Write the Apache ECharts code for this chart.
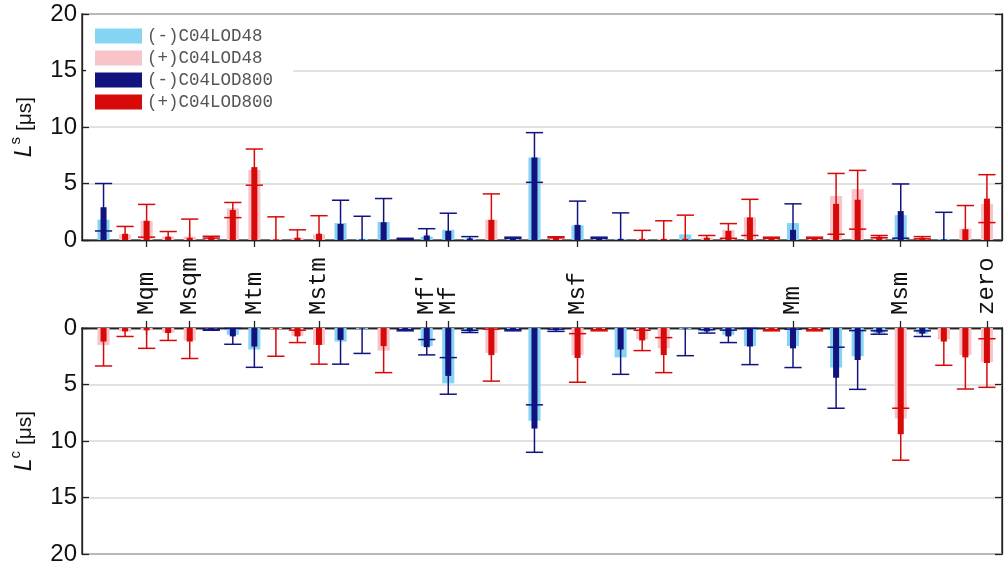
<!DOCTYPE html>
<html>
<head>
<meta charset="utf-8">
<script src="https://cdn.jsdelivr.net/npm/echarts@6/dist/echarts.min.js"></script>
<style>
  html, body { margin: 0; padding: 0; background: #fff; }
  #chart { width: 1006px; height: 568px; }
</style>
</head>
<body>
<div id="chart"></div>
<script>
// tide labels and the bar slot they sit on
const tickPositions = [2, 4, 7, 10, 15, 16, 22, 32, 37, 41]
const tickNames = ['Mqm', 'Msqm', 'Mtm', 'Mstm', "Mf'", 'Mf', 'Msf', 'Mm', 'Msm', 'zero']

// signed amplitudes: + is red, - is blue  (upper panel L^s)
const sinLod800 = [-2.9, 0.55, 1.7, 0.3, 0.2, 0.25, 2.65, 6.45, 0.05, 0.2, 0.55, -1.42, -0.05, -1.57,
  -0.1, -0.4, -0.8, -0.15, 1.78, -0.2, -7.3, 0.24, -1.34, -0.2, -0.1, 0.1, 0.1, 0.1,
  0.2, 0.8, 2.0, 0.2, -0.9, 0.2, 3.2, 3.56, 0.3, -2.56, 0.2, -0.05, 0.95, 3.66]
const sinLod800Err = [2.1, 0.65, 1.45, 0.45, 1.65, 0.08, 0.67, 1.6, 2.0, 0.7, 1.6, 2.1, 2.05, 2.1,
  0.05, 0.6, 1.57, 0.15, 2.3, 0.05, 2.2, 0.05, 2.1, 0.05, 2.3, 0.75, 1.6, 2.1,
  0.2, 0.65, 1.6, 0.05, 2.3, 0.05, 2.69, 2.6, 0.1, 2.4, 0.1, 2.4, 2.1, 2.12]
const sinLod48 = [-1.8, 0.5, 1.7, 0.3, 0.3, 0.25, 2.8, 6.2, 0.1, 0.2, 0.5, -1.5, -0.1, -1.6,
  -0.1, -0.3, -0.9, -0.1, 1.8, -0.2, -7.3, 0.2, -1.3, -0.2, -0.1, 0.1, 0.1, -0.5,
  0.2, 0.9, 2.0, 0.2, -1.5, 0.2, 3.9, 4.5, 0.3, -2.2, 0.2, -0.1, 1.0, 3.2]

// lower panel L^c
const cosLod800 = [1.2, 0.3, 0.2, 0.45, 1.2, -0.15, -0.74, -1.64, 0.1, 0.74, 1.5, -1.05, -0.05, 1.6,
  -0.2, -1.7, -4.24, -0.3, 2.4, -0.2, -8.9, -0.2, 2.65, 0.2, -1.9, 1.1, 2.4, -0.05,
  -0.3, -0.74, -1.64, 0.2, -1.8, 0.2, -4.4, -2.83, -0.4, 9.4, -0.5, 1.2, 2.6, 3.1]
const cosLod800Err = [2.16, 0.45, 1.6, 0.65, 1.5, 0.05, 0.7, 1.84, 2.4, 0.55, 1.7, 2.15, 2.2, 2.35,
  0.05, 0.68, 1.62, 0.1, 2.3, 0.05, 2.1, 0.1, 2.15, 0.05, 2.2, 0.9, 1.55, 2.4,
  0.15, 0.55, 1.6, 0.05, 1.7, 0.05, 2.7, 2.6, 0.15, 2.3, 0.25, 2.1, 2.8, 2.15]
const cosLod48 = [1.5, 0.3, 0.2, 0.4, 1.1, -0.15, -0.6, -1.9, 0.1, 0.7, 1.5, -1.2, -0.1, 2.0,
  -0.2, -1.6, -4.9, -0.3, 2.2, -0.2, -8.2, -0.2, 2.4, 0.2, -2.6, 1.0, 1.8, -0.1,
  -0.3, -0.6, -1.6, 0.2, -1.6, 0.2, -3.5, -2.5, -0.5, 8.0, -0.5, 1.0, 2.4, 3.0]

const colors = {
  '(-)C04LOD48': '#86d4f4',
  '(+)C04LOD48': '#f8c3c9',
  '(-)C04LOD800': '#13137f',
  '(+)C04LOD800': '#d70a0a'
}

function pick (vals, errs, sign) {
  const out = []
  vals.forEach((v, i) => {
    if (sign > 0 ? v >= 0 : v < 0) out.push([i, Math.abs(v), errs ? errs[i] : 0])
  })
  return out
}

function lightBar (params, api) {
  const x = api.value(0)
  const a = api.coord([x, 0])
  const b = api.coord([x, api.value(1)])
  const w = api.size([1, 0])[0] * 0.56
  return {
    type: 'rect',
    shape: { x: a[0] - w / 2, y: Math.min(a[1], b[1]), width: w, height: Math.abs(a[1] - b[1]) },
    style: { fill: api.visual('color') }
  }
}

function darkBar (params, api) {
  const x = api.value(0)
  const v = api.value(1)
  const e = api.value(2)
  const color = api.visual('color')
  const base = api.coord([x, 0])
  const top = api.coord([x, v])
  const hi = api.coord([x, v + e])
  const lo = api.coord([x, Math.max(0, v - e)])
  const unit = api.size([1, 0])[0]
  const w = unit * 0.28
  const cap = unit * 0.4
  const line = { stroke: color, lineWidth: 1.5 }
  const children = [
    { type: 'rect', shape: { x: base[0] - w / 2, y: Math.min(base[1], top[1]), width: w, height: Math.abs(base[1] - top[1]) }, style: { fill: color } },
    { type: 'line', shape: { x1: hi[0], y1: hi[1], x2: lo[0], y2: lo[1] }, style: line },
    { type: 'line', shape: { x1: hi[0] - cap, y1: hi[1], x2: hi[0] + cap, y2: hi[1] }, style: line }
  ]
  if (v - e > 0) {
    children.push({ type: 'line', shape: { x1: lo[0] - cap, y1: lo[1], x2: lo[0] + cap, y2: lo[1] }, style: line })
  }
  return { type: 'group', children }
}

function panelSeries (lod48, lod800, err, axis) {
  return [
    ['(-)C04LOD48', pick(lod48, null, -1), lightBar],
    ['(+)C04LOD48', pick(lod48, null, 1), lightBar],
    ['(-)C04LOD800', pick(lod800, err, -1), darkBar],
    ['(+)C04LOD800', pick(lod800, err, 1), darkBar]
  ].map(([name, data, fn]) => ({
    name,
    type: 'custom',
    xAxisIndex: axis,
    yAxisIndex: axis,
    itemStyle: { color: colors[name] },
    encode: { x: 0, y: 1 },
    renderItem: fn,
    data
  }))
}

const axisLineStyle = { color: '#222', width: 1.3 }

const xBase = {
  type: 'value',
  min: -1,
  max: 41.7,
  axisLine: { show: true, lineStyle: axisLineStyle },
  axisTick: { show: true, inside: true, length: 7, customValues: tickPositions, lineStyle: axisLineStyle },
  axisLabel: { show: false },
  splitLine: { show: false }
}

const yBase = {
  type: 'value',
  min: 0,
  max: 20,
  interval: 5,
  axisLine: { show: true, onZero: false, lineStyle: axisLineStyle },
  axisTick: { show: true, inside: true, length: 7, lineStyle: axisLineStyle },
  axisLabel: { show: false },
  splitLine: { show: false }
}

const nameRich = {
  it: { fontSize: 23, lineHeight: 34, fontStyle: 'italic', fontFamily: 'Liberation Sans', color: '#111' },
  sup: { fontSize: 15, lineHeight: 15, fontFamily: 'Liberation Sans', color: '#111', verticalAlign: 'top' },
  tx: { fontSize: 21, lineHeight: 34, fontFamily: 'Liberation Sans', color: '#111' }
}

const yLeft = {
  axisLabel: { show: true, fontSize: 24, fontFamily: 'Liberation Sans', color: '#111', margin: 5 },
  splitLine: { show: true, lineStyle: { color: '#d8d8d8', width: 1.5 } },
  nameLocation: 'middle',
  nameRotate: 90,
  nameGap: 40,
  nameTextStyle: { fontSize: 21, fontFamily: 'Liberation Sans', color: '#111', rich: nameRich }
}

const option = {
  animation: false,
  backgroundColor: '#fff',
  grid: [
    { left: 80, right: 4, top: 14, height: 226, show: true, borderColor: '#222', borderWidth: 1.3 },
    { left: 80, right: 4, top: 328, height: 226, show: true, borderColor: '#222', borderWidth: 1.3 }
  ],
  legend: {
    orient: 'vertical',
    left: 86,
    top: 21,
    padding: [6, 20, 6, 9],
    itemWidth: 47,
    itemHeight: 15,
    itemGap: 4,
    icon: 'rect',
    backgroundColor: '#fff',
    textStyle: { fontFamily: 'Liberation Mono', fontSize: 17.5, color: '#555' },
    data: Object.keys(colors)
  },
  xAxis: [
    Object.assign({}, xBase, { gridIndex: 0, position: 'top' }),
    Object.assign({}, xBase, { gridIndex: 0, position: 'bottom' }),
    Object.assign({}, xBase, {
      gridIndex: 1,
      position: 'top',
      axisLabel: {
        show: true,
        rotate: 90,
        margin: 13,
        customValues: tickPositions,
        fontFamily: 'Liberation Mono',
        fontSize: 24,
        color: '#111',
        formatter: v => tickNames[tickPositions.indexOf(v)] || ''
      }
    }),
    Object.assign({}, xBase, { gridIndex: 1, position: 'bottom' })
  ],
  yAxis: [
    Object.assign({}, yBase, yLeft, { gridIndex: 0, position: 'left', name: '{it|L}{sup|s}{tx| [μs]}' }),
    Object.assign({}, yBase, { gridIndex: 0, position: 'right' }),
    Object.assign({}, yBase, yLeft, { gridIndex: 1, position: 'left', inverse: true, name: '{it|L}{sup|c}{tx| [μs]}' }),
    Object.assign({}, yBase, { gridIndex: 1, position: 'right', inverse: true })
  ],
  series: [
    ...panelSeries(sinLod48, sinLod800, sinLod800Err, 0),
    ...panelSeries(cosLod48, cosLod800, cosLod800Err, 2)
  ]
}

const myChart = echarts.init(document.getElementById('chart'))
myChart.setOption(option)
</script>
</body>
</html>
